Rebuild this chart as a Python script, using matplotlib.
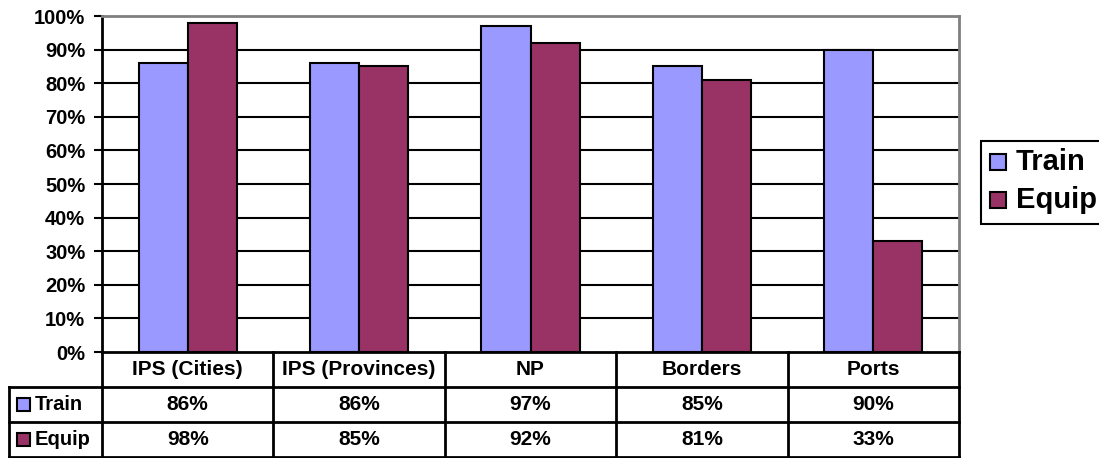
import numpy as np
import matplotlib
matplotlib.use('Agg')
import matplotlib.pyplot as plt
from matplotlib.patches import Rectangle
from matplotlib.transforms import blended_transform_factory

plt.rcParams['font.family'] = ['Liberation Sans', 'DejaVu Sans']
plt.rcParams['font.weight'] = 'bold'

categories = ['IPS (Cities)', 'IPS (Provinces)', 'NP', 'Borders', 'Ports']
series_names = ['Train', 'Equip']
train = [86, 86, 97, 85, 90]
equip = [98, 85, 92, 81, 33]
colors = ['#9999FF', '#993366']
yticks = [0, 10, 20, 30, 40, 50, 60, 70, 80, 90, 100]

W, H = 1099, 458
fig = plt.figure(figsize=(W / 100, H / 100), dpi=100)

# plot area in pixels
px_l, px_r, px_t, px_b = 102, 959, 16, 352
ax = fig.add_axes([px_l / W, 1 - px_b / H, (px_r - px_l) / W, (px_b - px_t) / H])
ax.set_xlim(0, len(categories))
ax.set_ylim(0, 100)

x = np.arange(len(categories)) + 0.5
bw = 0.286
for vals, off, c in zip([train, equip], [-bw / 2, bw / 2], colors):
    ax.bar(x + off, vals, width=bw, color=c, edgecolor='black', linewidth=1.5, zorder=3)

# grid
for t in yticks[1:-1]:
    ax.axhline(t, color='black', lw=1.5, zorder=1)
ax.set_yticks(yticks)
ax.set_yticklabels([f'{t}%' for t in yticks], fontsize=14.5, fontweight='bold')
ax.tick_params(axis='y', length=6, width=1.5, pad=6)
ax.set_xticks([])
for s in ['top', 'right']:
    ax.spines[s].set_color('#808080')
    ax.spines[s].set_linewidth(2)
ax.spines['left'].set_linewidth(2)
ax.spines['bottom'].set_linewidth(2)

# data table under the axes
row_h = 35 / (px_b - px_t)
tr = blended_transform_factory(ax.transData, ax.transAxes)
n = len(categories)
to_x = lambda p: (p - px_l) / (px_r - px_l) * n
lab_left = to_x(9)

def hline(y, x0, x1):
    ax.plot([x0, x1], [y, y], color='black', lw=2, transform=tr, clip_on=False, zorder=5)

def vline(xx, y0, y1):
    ax.plot([xx, xx], [y0, y1], color='black', lw=2, transform=tr, clip_on=False, zorder=5)

for i in range(n + 1):
    vline(i, 0, -3 * row_h)
for r in range(1, 4):
    hline(-r * row_h, lab_left, n)
vline(lab_left, -row_h, -3 * row_h)

for i, cat in enumerate(categories):
    ax.text(i + 0.5, -0.5 * row_h, cat, transform=tr, ha='center', va='center',
            fontsize=15, fontweight='bold')
    for r, vals in enumerate([train, equip]):
        ax.text(i + 0.5, -(r + 1.5) * row_h, f'{vals[i]}%', transform=tr,
                ha='center', va='center', fontsize=15, fontweight='bold')

sq = to_x(16 + 13) - to_x(16)
sq_h = 13 / (px_b - px_t)
for r, (name, c) in enumerate(zip(series_names, colors)):
    yc = -(r + 1.5) * row_h
    ax.add_patch(Rectangle((to_x(17), yc - sq_h / 2), sq, sq_h, facecolor=c, edgecolor='black',
                           lw=1.5, transform=tr, clip_on=False, zorder=6))
    ax.text(to_x(35), yc, name, transform=tr, ha='left', va='center',
            fontsize=14.5, fontweight='bold')

# legend box on the right
lx0, lx1, ly0, ly1 = 981, 1105, 141, 224
fig.add_artist(Rectangle((lx0 / W, 1 - ly1 / H), (lx1 - lx0) / W, (ly1 - ly0) / H,
                         facecolor='white', edgecolor='black', lw=1.5, transform=fig.transFigure))
for r, (name, c) in enumerate(zip(series_names, colors)):
    yc = 162 + r * 38
    fig.add_artist(Rectangle((990 / W, 1 - (yc + 8) / H), 16 / W, 16 / H, facecolor=c,
                             edgecolor='black', lw=1.5, transform=fig.transFigure))
    fig.text(1016 / W, 1 - yc / H, name, ha='left', va='center', fontsize=21, fontweight='bold')

fig.savefig('out.png', dpi=100)
